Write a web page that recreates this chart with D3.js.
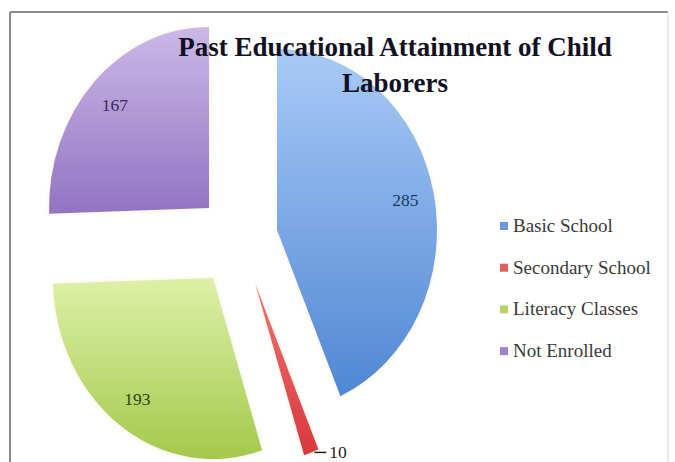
<!DOCTYPE html>
<html>
<head>
<meta charset="utf-8">
<script src="https://cdn.jsdelivr.net/npm/d3@7"></script>
<style>
  html, body { margin: 0; padding: 0; background: #ffffff; }
  svg { display: block; }
</style>
</head>
<body>
<svg id="chart" width="675" height="462"></svg>
<script>
// Education categories and their counts
const categories = ["Basic School", "Secondary School", "Literacy Classes", "Not Enrolled"];
const counts = [285, 10, 193, 167];
const titleLines = ["Past Educational Attainment of Child", "Laborers"];

// Slice fills (top -> bottom gradient stops) and label colours
const fillTop = ["#a9caf6", "#f07474", "#def0a8", "#cbb9e8"];
const fillBottom = ["#4f87d4", "#d8383c", "#a3c94c", "#9273c2"];
const legendColors = ["#6b97dc", "#e0605c", "#b6d86a", "#9d82c9"];
const labelColors = ["#22385a", "#222222", "#2f4512", "#3a2b55"];

const W = 675, H = 462;
const svg = d3.select("#chart");

// Chart frame
const frame = { x: 10, y: 12, w: 658, h: 470 };

// Pie geometry: horizontal / vertical radii and the apex of each exploded slice
const rx = 160, ry = 181;
const sliceApex = [[277, 230], [255, 283], [213, 278], [209, 208]];
const labelFrac = 0.82;

const defs = svg.append("defs");
categories.forEach((c, i) => {
  const g = defs.append("linearGradient")
    .attr("id", "grad" + i)
    .attr("x1", 0).attr("y1", 0).attr("x2", 0).attr("y2", 1);
  g.append("stop").attr("offset", "0%").attr("stop-color", fillTop[i]);
  g.append("stop").attr("offset", "100%").attr("stop-color", fillBottom[i]);
});
const glow = defs.append("filter").attr("id", "glow")
  .attr("x", "-10%").attr("y", "-10%").attr("width", "120%").attr("height", "120%");
glow.append("feGaussianBlur").attr("in", "SourceAlpha").attr("stdDeviation", 2.5).attr("result", "b");
glow.append("feFlood").attr("flood-color", "#f3eed2").attr("flood-opacity", 0.9);
glow.append("feComposite").attr("in2", "b").attr("operator", "in").attr("result", "s");
const merge = glow.append("feMerge");
merge.append("feMergeNode").attr("in", "s");
merge.append("feMergeNode").attr("in", "SourceGraphic");

defs.append("clipPath").attr("id", "frameClip")
  .append("rect").attr("x", frame.x).attr("y", frame.y).attr("width", frame.w).attr("height", frame.h);

// Frame background and border
svg.append("rect")
  .attr("x", frame.x).attr("y", frame.y)
  .attr("width", frame.w).attr("height", frame.h)
  .attr("fill", "#ffffff");
svg.append("line").attr("x1", frame.x).attr("x2", frame.x + frame.w)
  .attr("y1", frame.y).attr("y2", frame.y)
  .attr("stroke", "#8a8a8a").attr("stroke-width", 2);
svg.append("line").attr("x1", frame.x).attr("x2", frame.x)
  .attr("y1", frame.y).attr("y2", H)
  .attr("stroke", "#8a8a8a").attr("stroke-width", 2);
svg.append("line").attr("x1", frame.x + frame.w).attr("x2", frame.x + frame.w)
  .attr("y1", frame.y).attr("y2", H)
  .attr("stroke", "#e4e4e4").attr("stroke-width", 1.5);

// Pie layout: clockwise from 12 o'clock, data order kept
const pie = d3.pie().sort(null).value(d => d)(counts);
const arc = d3.arc().innerRadius(0).outerRadius(rx);

const plot = svg.append("g").attr("clip-path", "url(#frameClip)");
pie.forEach((p, i) => {
  const [ax, ay] = sliceApex[i];
  plot.append("g")
    .attr("transform", `translate(${ax},${ay}) scale(1,${ry / rx})`)
    .append("path")
    .attr("d", arc(p))
    .attr("fill", `url(#grad${i})`)
    .attr("filter", "url(#glow)");
});

// Data labels inside the larger slices
const labelFont = "'Liberation Serif', 'DejaVu Serif', serif";
pie.forEach((p, i) => {
  const mid = (p.startAngle + p.endAngle) / 2;
  const [ax, ay] = sliceApex[i];
  if (p.value < 20) {
    // Small slice: label outside with a short leader
    const tipX = ax + rx * Math.sin(mid);
    const tipY = ay - ry * Math.cos(mid);
    svg.append("path")
      .attr("d", `M${tipX + 3},${tipY}L${tipX + 15},${tipY}`)
      .attr("stroke", "#222").attr("stroke-width", 1.5).attr("fill", "none");
    svg.append("text")
      .attr("x", tipX + 18).attr("y", tipY + 6)
      .attr("font-family", labelFont).attr("font-size", 17.5)
      .attr("fill", labelColors[i])
      .text(p.value);
  } else {
    const lx = ax + rx * labelFrac * Math.sin(mid);
    const ly = ay - ry * labelFrac * Math.cos(mid);
    svg.append("text")
      .attr("x", lx).attr("y", ly + 6)
      .attr("text-anchor", "middle")
      .attr("font-family", labelFont).attr("font-size", 17.5)
      .attr("fill", labelColors[i])
      .text(p.value);
  }
});

// Title
const title = svg.append("text")
  .attr("text-anchor", "middle")
  .attr("font-family", "'Liberation Serif', 'DejaVu Serif', serif")
  .attr("font-weight", "bold")
  .attr("font-size", 27)
  .attr("fill", "#111122");
titleLines.forEach((t, i) => {
  title.append("tspan").attr("x", 395).attr("y", 56 + i * 36).text(t);
});

// Legend
const legend = svg.append("g").attr("transform", "translate(500,232)");
categories.forEach((c, i) => {
  const row = legend.append("g").attr("transform", `translate(0,${i * 41.7})`);
  row.append("rect").attr("x", 0).attr("y", -10).attr("width", 8).attr("height", 8)
    .attr("fill", legendColors[i]);
  row.append("text").attr("x", 13).attr("y", 0)
    .attr("font-family", labelFont).attr("font-size", 19)
    .attr("fill", "#3a3a3a")
    .text(c);
});
</script>
</body>
</html>
